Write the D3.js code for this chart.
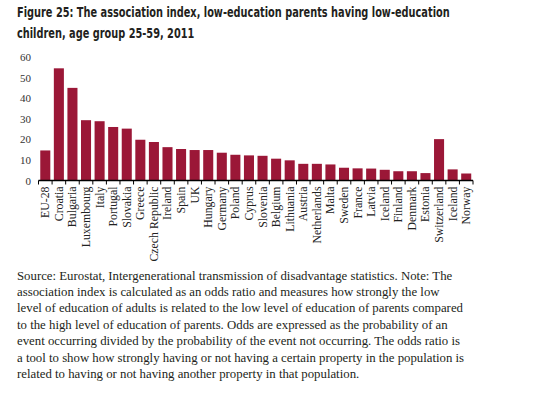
<!DOCTYPE html>
<html lang="en">
<head>
    <meta charset="UTF-8">
    <title>Figure 25</title>
    <script src="https://cdn.jsdelivr.net/npm/d3@7"></script>
    <style>
        body { margin: 0; background: #fff; }
        #chart { width: 535px; height: 394px; }
    </style>
</head>
<body>
    <div id="chart"></div>
<script>
    // categories and values
    const countries = ["EU-28", "Croatia", "Bulgaria", "Luxembourg", "Italy", "Portugal", "Slovakia",
        "Greece", "Czech Republic", "Ireland", "Spain", "UK", "Hungary", "Germany", "Poland",
        "Cyprus", "Slovenia", "Belgium", "Lithuania", "Austria", "Netherlands", "Malta", "Sweden",
        "France", "Latvia", "Iceland", "Finland", "Denmark", "Estonia", "Switzerland", "Iceland ", "Norway"];
    const assocIndex = [14.6, 54.5, 45, 29.3, 28.8, 26, 25.2, 19.8, 18.7, 16.2, 15.3, 14.8, 14.8,
        13.5, 12.5, 12.2, 12.0, 10.6, 9.8, 8.1, 8.1, 7.8, 6.2, 5.9, 5.8, 5.2, 4.5, 4.5, 3.6,
        20.1, 5.4, 3.4];
    const yTicks = [0, 10, 20, 30, 40, 50, 60];

    const titleLines = [
        "Figure 25: The association index, low-education parents having low-education",
        "children, age group 25-59, 2011"
    ];
    const noteLines = [
        "Source: Eurostat, Intergenerational transmission of disadvantage statistics. Note: The",
        "association index is calculated as an odds ratio and measures how strongly the low",
        "level of education of adults is related to the low level of education of parents compared",
        "to the high level of education of parents. Odds are expressed as the probability of an",
        "event occurring divided by the probability of the event not occurring. The odds ratio is",
        "a tool to show how strongly having or not having a certain property in the population is",
        "related to having or not having another property in that population."
    ];

    let svg = d3.select("#chart").append("svg")
        .attr("width", 535)
        .attr("height", 394);

    // title: tall condensed look, whole group squeezed horizontally to the picture's width
    let title = svg.append("g")
        .attr("font-family", "'DejaVu Sans Condensed', 'Liberation Sans Narrow', sans-serif")
        .attr("font-weight", "bold")
        .attr("font-size", 14.5)
        .attr("fill", "#231f20");
    let tl = title.selectAll("text")
        .data(titleLines)
        .enter()
        .append("text")
        .attr("x", 0)
        .attr("y", (d, i) => 17.5 + i * 21)
        .text(d => d);
    let squeeze = Math.min(1, 433 / tl.nodes()[0].getComputedTextLength());
    title.attr("transform", "translate(17,0) scale(" + squeeze + ",1)");

    /* scales */
    let x = d3.scaleBand()
        .domain(countries)
        .range([38.5, 473])
        .paddingInner(0.26)
        .paddingOuter(0.13);

    let y = d3.scaleLinear()
        .domain([0, 60])
        .range([180.5, 57]);

    /* y axis, labels only */
    let yAxis = svg.append("g")
        .attr("class", "yaxis")
        .attr("transform", "translate(31,0)")
        .call(d3.axisLeft(y).tickValues(yTicks).tickSize(0).tickPadding(0));
    yAxis.select(".domain").remove();
    yAxis.selectAll("text")
        .attr("font-family", "'Liberation Serif', serif")
        .attr("font-size", 11)
        .attr("fill", "#333");

    /* bars */
    svg.append("g")
        .selectAll("rect")
        .data(assocIndex)
        .enter()
        .append("rect")
        .attr("x", (d, i) => x(countries[i]))
        .attr("y", d => y(d))
        .attr("width", x.bandwidth())
        .attr("height", d => y(0) - y(d))
        .attr("fill", "#9b1737");

    /* x axis: line, ticks at band edges, rotated labels */
    let xAxis = svg.append("g")
        .attr("class", "xaxis")
        .attr("transform", "translate(0," + y(0) + ")");
    xAxis.append("line")
        .attr("x1", 38.5).attr("x2", 473)
        .attr("stroke", "#000").attr("stroke-width", 1.5);
    let edges = countries.map(c => x(c) - x.step() * x.paddingInner() / 2);
    edges.push(473);
    xAxis.selectAll(".edge")
        .data(edges)
        .enter()
        .append("line")
        .attr("class", "edge")
        .attr("x1", d => d).attr("x2", d => d)
        .attr("y1", 0).attr("y2", 4)
        .attr("stroke", "#000");
    xAxis.selectAll(".lbl")
        .data(countries)
        .enter()
        .append("text")
        .attr("class", "lbl")
        .attr("transform", d => "translate(" + (x(d) + x.bandwidth() / 2 + 4) + ",6) rotate(-90)")
        .attr("text-anchor", "end")
        .attr("font-family", "'Liberation Serif', serif")
        .attr("font-size", 11.8)
        .attr("fill", "#222")
        .text(d => d.trim());

    /* note under the chart */
    let note = svg.append("g")
        .attr("font-family", "'Liberation Serif', serif")
        .attr("font-size", 12)
        .attr("fill", "#231f20");
    note.selectAll("text")
        .data(noteLines)
        .enter()
        .append("text")
        .attr("x", 17)
        .attr("y", (d, i) => 279.5 + i * 16.4)
        .text(d => d);
    let n0 = note.select("text").node();
    note.attr("font-size", 12 * 436 / n0.getComputedTextLength());
</script>
</body>
</html>
